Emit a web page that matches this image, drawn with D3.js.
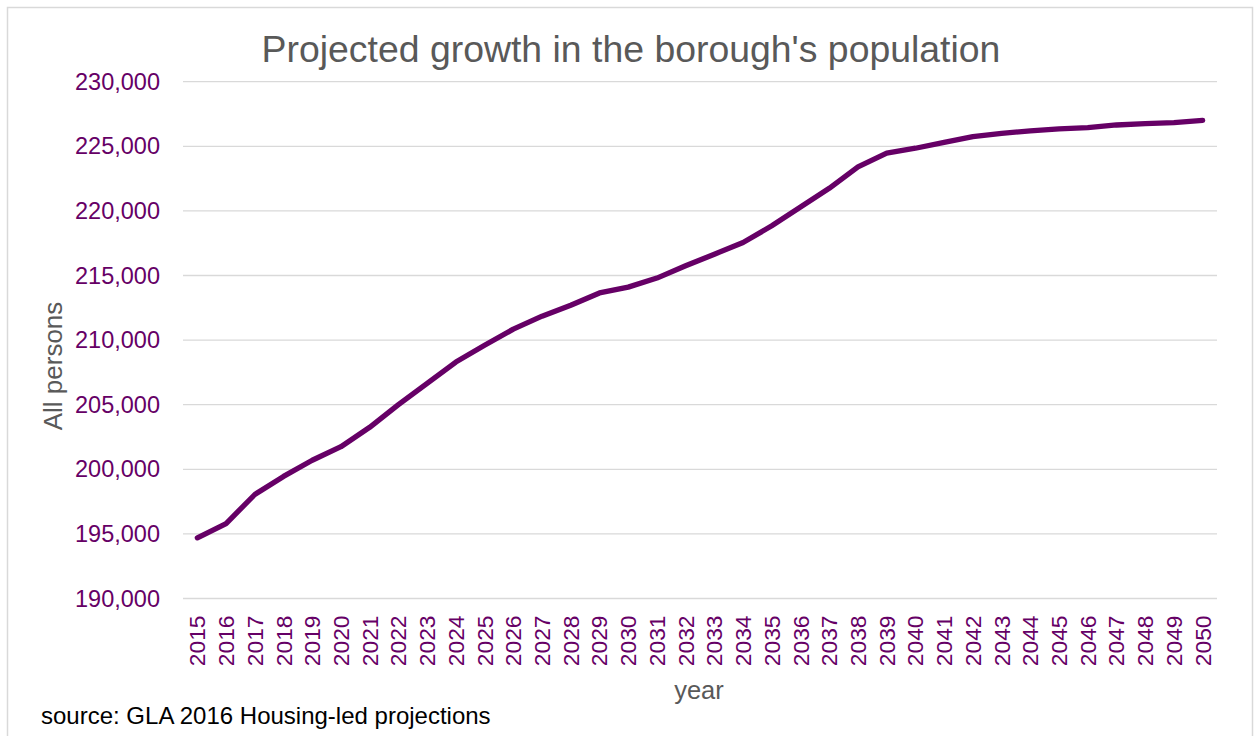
<!DOCTYPE html>
<html>
<head>
<meta charset="utf-8">
<script src="https://cdn.jsdelivr.net/npm/d3@7"></script>
<style>
html, body { margin: 0; padding: 0; background: #fff; }
svg { display: block; font-family: "Liberation Sans", Arial, sans-serif; }
</style>
</head>
<body>
<svg id="chart" width="1256" height="736"></svg>
<script>
const years = d3.range(2015, 2051).map(String);
const population = [
  194700, 195800, 198050, 199450, 200700, 201750, 203250, 205000, 206650, 208300,
  209600, 210850, 211850, 212700, 213650, 214100, 214800, 215750, 216650, 217550,
  218850, 220300, 221750, 223400, 224480, 224850, 225300, 225750, 226000, 226200,
  226350, 226450, 226650, 226750, 226830, 227000
];
const yTicks = [190000, 195000, 200000, 205000, 210000, 215000, 220000, 225000, 230000];
const titleText = "Projected growth in the borough's population";
const yAxisTitle = "All persons";
const xAxisTitle = "year";
const sourceText = "source: GLA 2016 Housing-led projections";

const svg = d3.select("#chart");
const plotLeft = 183, plotRight = 1217, plotTop = 81.7, plotBottom = 598.5;

// outer border
svg.append("rect").attr("x", 7.5).attr("y", 7.5).attr("width", 1245).attr("height", 740)
  .attr("fill", "#fff").attr("stroke", "#d9d9d9").attr("stroke-width", 1.5);

const x = d3.scaleBand().domain(years).range([plotLeft, plotRight]);
const y = d3.scaleLinear().domain([190000, 230000]).range([plotBottom, plotTop]);

// gridlines
svg.append("g").selectAll("line").data(yTicks).join("line")
  .attr("x1", plotLeft).attr("x2", plotRight)
  .attr("y1", d => y(d)).attr("y2", d => y(d))
  .attr("stroke", "#d9d9d9").attr("stroke-width", 1.3);

// y axis
const yAxis = svg.append("g").attr("transform", `translate(${plotLeft},0)`)
  .call(d3.axisLeft(y).tickValues(yTicks).tickSize(0).tickPadding(23).tickFormat(d3.format(",")));
yAxis.select(".domain").remove();
yAxis.selectAll("text").attr("fill", "#660066").style("font-size", "23.5px")
  .style("font-family", "'Liberation Sans', Arial, sans-serif");

// x axis
const xAxis = svg.append("g").attr("transform", `translate(0,${plotBottom})`)
  .call(d3.axisBottom(x).tickSize(0).tickPadding(0));
xAxis.select(".domain").remove();
xAxis.selectAll("text")
  .attr("transform", "rotate(-90)")
  .attr("x", -17).attr("y", 0).attr("dy", "0.35em")
  .attr("text-anchor", "end")
  .attr("fill", "#660066").style("font-size", "22.8px")
  .style("font-family", "'Liberation Sans', Arial, sans-serif");

// line
const line = d3.line().x((d, i) => x(years[i]) + x.bandwidth() / 2).y(d => y(d));
svg.append("path").datum(population)
  .attr("d", line).attr("fill", "none")
  .attr("stroke", "#660066").attr("stroke-width", 5.3)
  .attr("stroke-linejoin", "round").attr("stroke-linecap", "round");

// title
svg.append("text").attr("x", 631).attr("y", 62).attr("text-anchor", "middle")
  .attr("fill", "#595959").style("font-size", "37.4px").text(titleText);

// y axis title
svg.append("text").attr("transform", "translate(62,366) rotate(-90)")
  .attr("text-anchor", "middle").attr("fill", "#595959").style("font-size", "26px").text(yAxisTitle);

// x axis title
svg.append("text").attr("x", 699).attr("y", 699).attr("text-anchor", "middle")
  .attr("fill", "#595959").style("font-size", "25.5px").text(xAxisTitle);

// source
svg.append("text").attr("x", 41).attr("y", 724)
  .attr("fill", "#000").style("font-size", "24px").text(sourceText);
</script>
</body>
</html>
